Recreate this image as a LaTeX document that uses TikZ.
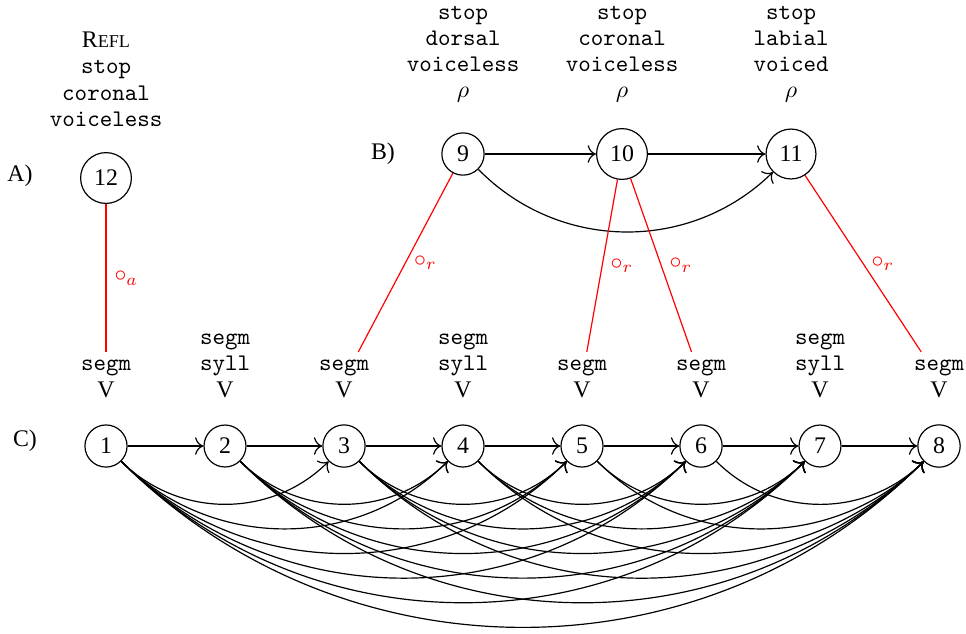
\documentclass[tikz,border=0pt]{standalone}
\usepackage{fontspec}
\setmainfont{Liberation Serif}
\usetikzlibrary{arrows.meta}
\begin{document}
\begin{tikzpicture}[x=0.42pt,y=0.42pt, line width=0.5pt, >={To[scale=1.3]},
  state/.style={draw, circle, inner sep=3.333pt, font=\fontsize{10}{12}\selectfont},
  feat/.style={align=center, inner sep=3.333pt, font=\fontsize{10}{11}\selectfont},
  assoc/.style={red},
  lab/.style={red, inner sep=3.333pt, font=\fontsize{10}{12}\selectfont},
  arr/.style={->},
  tag/.style={font=\fontsize{10}{12}\selectfont}]
\useasboundingbox (0,0) rectangle (966,-633);
% row labels
\node[tag] (tA) at (20,-176) {A)};
\node[tag] (tB) at (383,-154) {B)};
\node[tag] (tC) at (25,-441) {C)};
% A
\node[state] (n12) at (106,-178) {12};
\node[feat, anchor=south] (fA) at (106,-135) {R{\fontsize{7.6}{9}\selectfont EFL}\\\texttt{stop}\\\texttt{coronal}\\\texttt{voiceless}};
% B
\node[state] (n9) at (463,-154) {9};
\node[state] (n10) at (622,-154) {10};
\node[state] (n11) at (791,-154) {11};
\node[feat, anchor=south] (f9) at (463,-111) {\texttt{stop}\\\texttt{dorsal}\\\texttt{voiceless}\\$\rho$};
\node[feat, anchor=south] (f10) at (622,-111) {\texttt{stop}\\\texttt{coronal}\\\texttt{voiceless}\\$\rho$};
\node[feat, anchor=south] (f11) at (791,-111) {\texttt{stop}\\\texttt{labial}\\\texttt{voiced}\\$\rho$};
\draw[arr] (n9) -- (n10);
\draw[arr] (n10) -- (n11);
\draw[arr] (n9) to[bend right=45] (n11);
% C
\foreach \i in {1,...,8}{
  \node[state] (n\i) at ({106+119*(\i-1)},-446) {\i};
}
\foreach \i in {1,3,5,6,8}{
  \node[feat, anchor=south] (l\i) at ({106+119*(\i-1)},-406) {\texttt{segm}\\V};
}
\foreach \i in {2,4,7}{
  \node[feat, anchor=south] (l\i) at ({106+119*(\i-1)},-406) {\texttt{segm}\\\texttt{syll}\\V};
}
\foreach \i/\j in {1/2,2/3,3/4,4/5,5/6,6/7,7/8}{
  \draw[arr] (n\i) -- (n\j);
}
\foreach \i in {1,...,6}{
  \pgfmathtruncatemacro{\s}{\i+2}
  \foreach \j in {\s,...,8}{
    \draw[arr] (n\i) to[bend right=45] (n\j);
  }
}
% associations
\draw[assoc] (n12) -- node[lab, right] {$\circ_a$} (l1);
\draw[assoc] (n9) -- node[lab, right] {$\circ_r$} (l3);
\draw[assoc] (n10) -- node[lab, right] {$\circ_r$} (l5);
\draw[assoc] (n10) -- node[lab, right] {$\circ_r$} (l6);
\draw[assoc] (n11) -- node[lab, right] {$\circ_r$} (l8);
\end{tikzpicture}
\end{document}
